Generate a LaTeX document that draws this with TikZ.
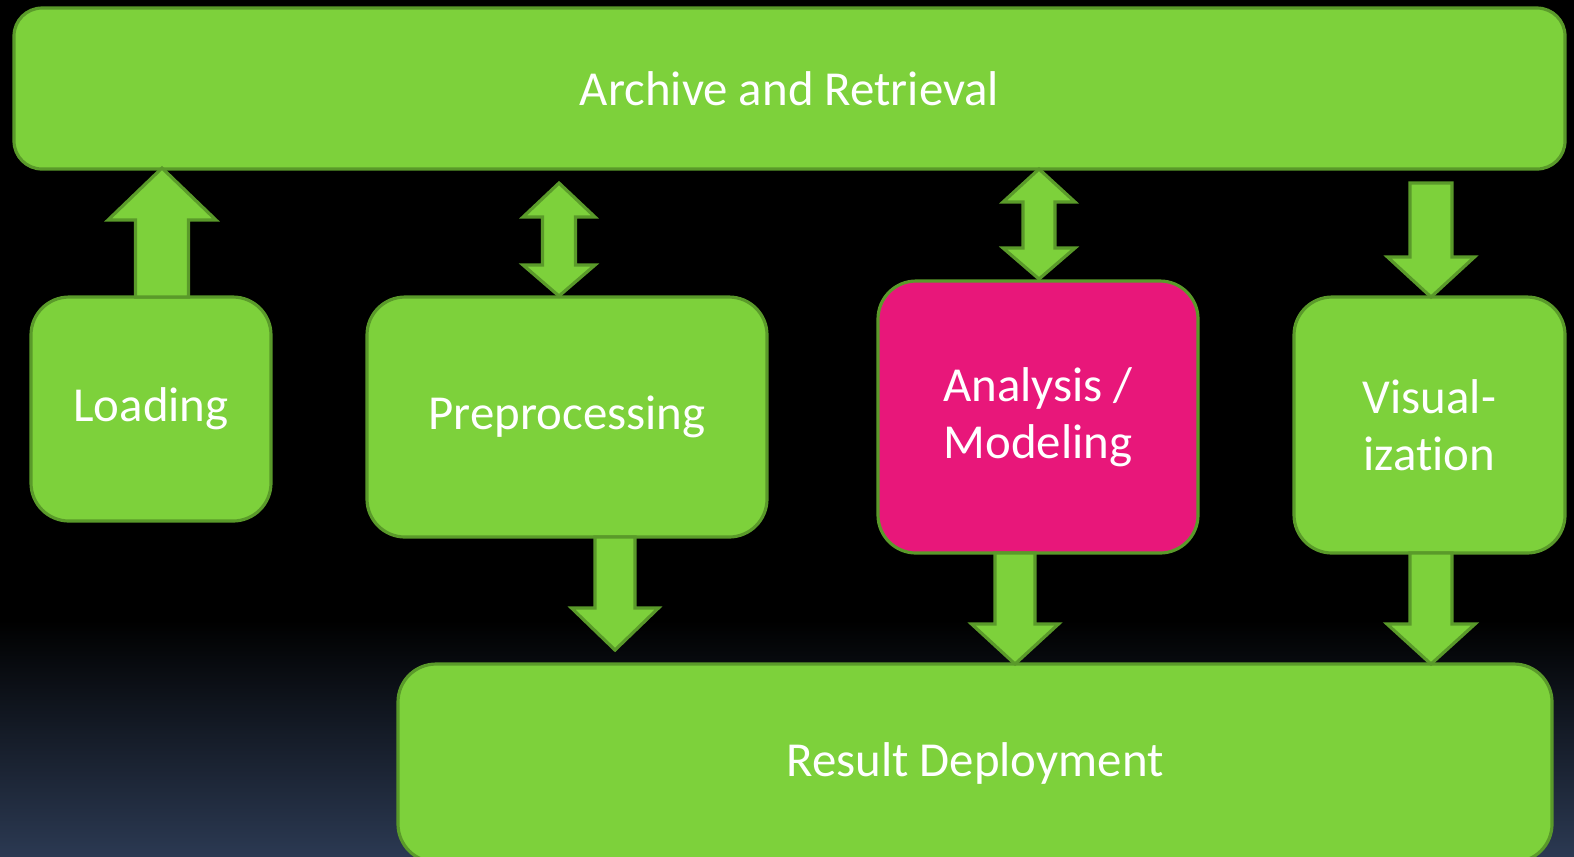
\documentclass[tikz,border=0pt]{standalone}
\usepackage{fontspec}
\setmainfont{Carlito}[Ligatures=NoCommon]
\definecolor{boxgreen}{RGB}{125,209,59}
\definecolor{edgegreen}{RGB}{90,154,42}
\definecolor{boxpink}{RGB}{232,23,122}
\definecolor{bgblue}{RGB}{43,57,82}
\tikzset{
	stage/.style={draw=edgegreen, line width=0.9pt, fill=boxgreen, rounded corners=0.38cm,
		text=white, align=center, inner sep=0pt, font=\fontsize{13.9}{16.2}\selectfont},
	bigarrow/.style={draw=edgegreen, line width=0.9pt, fill=boxgreen, line join=miter},
}
% block arrow: x, start, head base, tip, head half width, shaft half width
\newcommand{\blockarr}[6]{\draw[bigarrow] (#1-#6,#2) -- (#1+#6,#2) -- (#1+#6,#3) -- (#1+#5,#3) -- (#1,#4) -- (#1-#5,#3) -- (#1-#6,#3) -- cycle;}
% double block arrow: x, top tip, top base, bottom base, bottom tip, head half width, shaft half width
\newcommand{\dblarr}[7]{\draw[bigarrow] (#1,#2) -- (#1+#6,#3) -- (#1+#7,#3) -- (#1+#7,#4) -- (#1+#6,#4) -- (#1,#5) -- (#1-#6,#4) -- (#1-#7,#4) -- (#1-#7,#3) -- (#1-#6,#3) -- cycle;}
\begin{document}
\begin{tikzpicture}
	\useasboundingbox (0,0) rectangle (15.74,-8.56);
	\clip (0,0) rectangle (15.74,-8.56);
	\fill[black] (0,0) rectangle (15.74,-6.2);
	\shade[top color=black, bottom color=bgblue] (0,-6.2) rectangle (15.74,-8.56);

	\node[stage, rounded corners=0.28cm, minimum width=15.51cm, minimum height=1.61cm] (archive) at (7.895,-0.885) {Archive and Retrieval};
	\node[stage, minimum width=2.40cm, minimum height=2.24cm] (load) at (1.51,-4.09) {Loading};
	\node[stage, minimum width=4.00cm, minimum height=2.40cm] (prep) at (5.67,-4.17) {Preprocessing};
	\node[stage, fill=boxpink, minimum width=3.20cm, minimum height=2.72cm] (anal) at (10.38,-4.17) {Analysis /\\Modeling};
	\node[stage, minimum width=2.71cm, minimum height=2.56cm] (vis) at (14.295,-4.25) {Visual-\\ization};
	\node[stage, minimum width=11.54cm, minimum height=1.98cm] (result) at (9.75,-7.63) {Result Deployment};

	\blockarr{1.62}{-2.97}{-2.20}{-1.68}{0.54}{0.265}
	\dblarr{5.59}{-1.83}{-2.17}{-2.65}{-2.96}{0.36}{0.165}
	\dblarr{10.39}{-1.69}{-2.02}{-2.48}{-2.79}{0.36}{0.16}
	\blockarr{14.31}{-1.83}{-2.57}{-2.97}{0.435}{0.21}
	\blockarr{6.15}{-5.37}{-6.08}{-6.50}{0.435}{0.20}
	\blockarr{10.15}{-5.53}{-6.24}{-6.64}{0.435}{0.20}
	\blockarr{14.31}{-5.53}{-6.24}{-6.64}{0.44}{0.21}
\end{tikzpicture}
\end{document}
